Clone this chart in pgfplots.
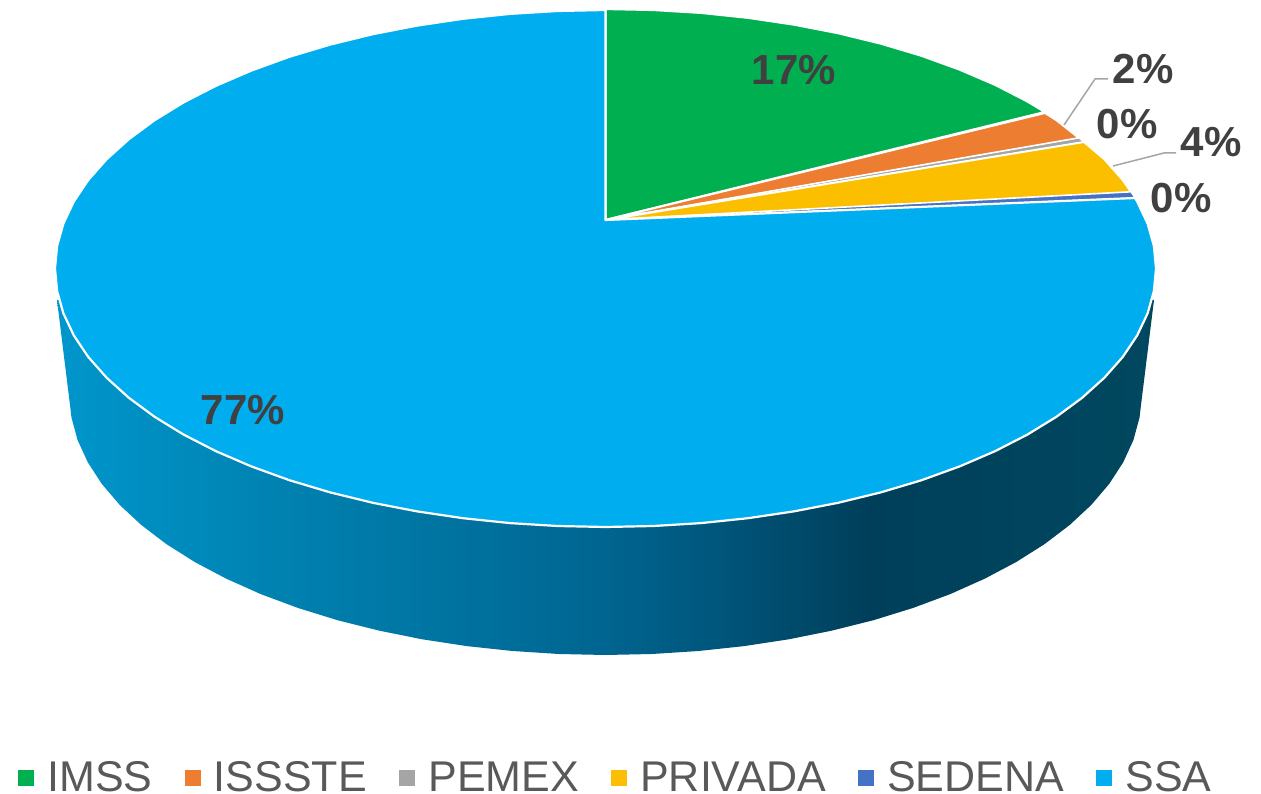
\documentclass[border=0pt]{standalone}
\usepackage{pgfplots}
\usepackage{fontspec}
\setmainfont{Liberation Sans}
\pgfplotsset{compat=1.18}
\definecolor{cIMSS}{HTML}{00AF50}
\definecolor{cISSSTE}{HTML}{ED7D31}
\definecolor{cPEMEX}{HTML}{A5A5A5}
\definecolor{cPRIVADA}{HTML}{FCBF00}
\definecolor{cSEDENA}{HTML}{4472C4}
\definecolor{cSSA}{HTML}{00AEEF}
\definecolor{lab}{HTML}{404040}
\definecolor{leg}{HTML}{595959}
\definecolor{sa}{HTML}{0096CC}
\definecolor{sb}{HTML}{0082B1}
\definecolor{sc}{HTML}{006F9C}
\definecolor{sd}{HTML}{006590}
\definecolor{se}{HTML}{00567C}
\definecolor{sf}{HTML}{003F5A}
\definecolor{sg}{HTML}{00485F}
\pgfdeclarehorizontalshading{pieside}{100bp}{
  color(0bp)=(sa);
  color(25bp)=(sa);
  color(35bp)=(sb);
  color(45bp)=(sc);
  color(50bp)=(sd);
  color(55bp)=(se);
  color(62bp)=(sf);
  color(75bp)=(sg);
  color(100bp)=(sg)}
\begin{document}
\begin{tikzpicture}
\begin{axis}[
  scale only axis, width=1261pt, height=794pt,
  xmin=0, xmax=1261, ymin=0, ymax=794, y dir=reverse,
  hide axis, clip=false,
  legend columns=6,
  legend cell align=left,
  legend image code/.code={\fill[#1,draw=none] (0pt,-9pt) rectangle (16pt,7pt);},
  legend style={draw=none, fill=none, at={(axis cs:615,777)}, anchor=center,
    font=\fontsize{43}{43}\selectfont\color{leg}, inner sep=0pt, outer sep=0pt,
    nodes={inner sep=0pt},
    /tikz/every even column/.append style={column sep=32.4pt},
    /tikz/every odd column/.append style={column sep=13pt}},
]
\addplot[forget plot, draw=none] coordinates {(0,0)(1261,794)};
% side wall
\addplot[forget plot, draw=none, shading=pieside] coordinates {
 (57,300)(70,405)(71.5,417.7)(77.6,440.1)(87.8,462.3)(101.8,483.9)(119.7,504.9)(141.3,525)(166.4,544.1)(194.9,562.1)(226.5,578.8)(261,594.2)(298.1,608)(337.5,620.2)(379,630.6)(422.2,639.3)(466.8,646.1)(512.4,651)(558.8,654)(605.5,655)(652.2,654)(698.6,651)(744.2,646.1)(788.8,639.3)(832,630.6)(873.5,620.2)(912.9,608)(950,594.2)(984.5,578.8)(1016.1,562.1)(1044.6,544.1)(1069.7,525)(1091.3,504.9)(1109.2,483.9)(1123.2,462.3)(1133.4,440.1)(1139.5,417.7)(1141,405)(1154,300)(605.5,280)} -- cycle;
% IMSS
\addplot[fill=cIMSS, draw=white, line width=2.2pt, line join=round] coordinates {
 (605.5,220)(605.5,9)(653.5,10)(701.1,12.9)(748,17.8)(793.8,24.6)(838.2,33.2)(880.75,43.6)(921.3,55.7)(959.4,69.5)(994.8,84.7)(1027.2,101.3)(1045,112)} -- cycle;
\addlegendentry{IMSS}
% ISSSTE
\addplot[fill=cISSSTE, draw=white, line width=2pt, line join=round] coordinates {
 (605.5,220)(1045,113)(1056.4,120.2)(1079,138)} -- cycle;
\addlegendentry{ISSSTE}
% PEMEX
\addplot[fill=cPEMEX, draw=white, line width=1.2pt, line join=round] coordinates {
 (605.5,220)(1079,138)(1084,142)} -- cycle;
\addlegendentry{PEMEX}
% PRIVADA
\addplot[fill=cPRIVADA, draw=white, line width=2pt, line join=round] coordinates {
 (605.5,220)(1084,142)(1104.4,159.3)(1122.8,180.1)(1131,192)} -- cycle;
\addlegendentry{PRIVADA}
% SEDENA
\addplot[fill=cSEDENA, draw=white, line width=1.2pt, line join=round] coordinates {
 (605.5,220)(1131,192)(1135,198)} -- cycle;
\addlegendentry{SEDENA}
% SSA
\addplot[fill=cSSA, draw=white, line width=2.2pt, line join=round] coordinates {
 (605.5,220)(1135,198)(1137.2,201.6)(1147.6,223.6)(1153.9,246)(1156,268.5)(1153.9,291)(1147.6,313.4)(1137.2,335.4)(1122.8,356.9)(1104.4,377.7)(1082.2,397.75)(1056.4,416.8)(1027.2,434.7)(994.8,451.3)(959.4,466.5)(921.3,480.3)(880.75,492.4)(838.2,502.8)(793.8,511.4)(748,518.2)(701.1,523.1)(653.5,526)(605.5,527)(557.5,526)(509.9,523.1)(463,518.2)(417.2,511.4)(372.8,502.8)(330.25,492.4)(289.7,480.3)(251.6,466.5)(216.2,451.3)(183.8,434.7)(154.6,416.8)(128.8,397.75)(106.6,377.7)(88.2,356.9)(73.8,335.4)(63.4,313.4)(57.1,291)(55,268.5)(57.1,246)(63.4,223.6)(73.8,201.6)(88.2,180.1)(106.6,159.3)(128.8,139.25)(154.6,120.2)(183.8,102.3)(216.2,85.7)(251.6,70.5)(289.7,56.7)(330.25,44.6)(372.8,34.2)(417.2,25.6)(463,18.8)(509.9,13.9)(557.5,11)(605.5,10)} -- cycle;
\addlegendentry{SSA}
% leader lines
\addplot[forget plot, color=cPEMEX, line width=1.5pt] coordinates {(1064,125)(1095,79)(1108,79)};
\addplot[forget plot, color=cPEMEX, line width=1.5pt] coordinates {(1113,166)(1164,153)(1176,153)};
% labels
\node[font=\fontsize{42}{42}\selectfont\bfseries, text=lab] at (axis cs:794,70) {17\%};
\node[font=\fontsize{42}{42}\selectfont\bfseries, text=lab] at (axis cs:1143,69) {2\%};
\node[font=\fontsize{42}{42}\selectfont\bfseries, text=lab] at (axis cs:1127,124) {0\%};
\node[font=\fontsize{42}{42}\selectfont\bfseries, text=lab] at (axis cs:1211,142) {4\%};
\node[font=\fontsize{42}{42}\selectfont\bfseries, text=lab] at (axis cs:1181,198) {0\%};
\node[font=\fontsize{42}{42}\selectfont\bfseries, text=lab] at (axis cs:243,410) {77\%};
\end{axis}
\end{tikzpicture}
\end{document}
